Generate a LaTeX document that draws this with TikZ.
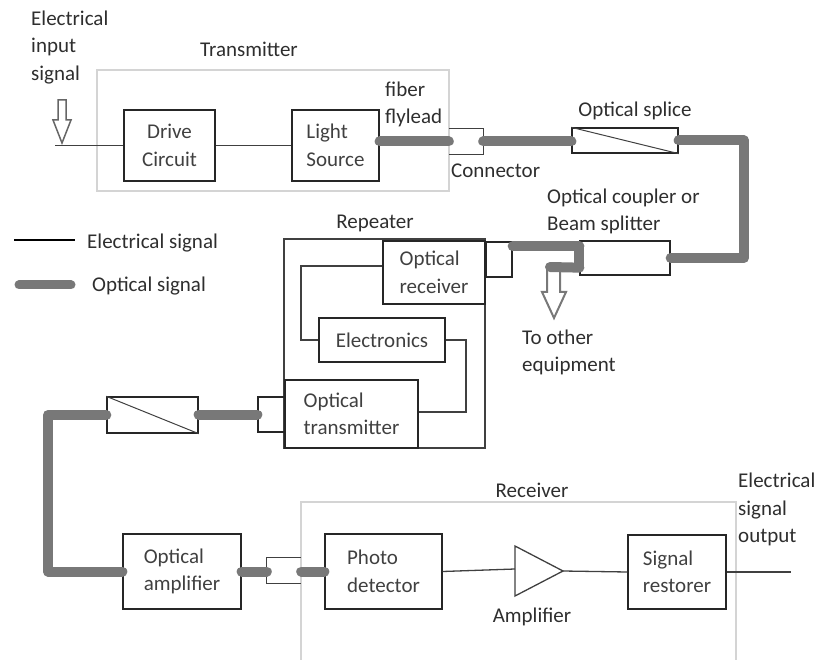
\documentclass[tikz,border=0pt]{standalone}
\usepackage{fontspec}
\setmainfont{Carlito}
\usetikzlibrary{calc}
\definecolor{optgray}{HTML}{787878}
\definecolor{lblcol}{HTML}{2E2E2E}
\definecolor{boxtxt}{HTML}{404040}
\definecolor{framegray}{HTML}{D4D4D4}
\begin{document}
\begin{tikzpicture}[x=1pt,y=-1pt,
  every node/.style={font=\fontsize{21}{27.5}\selectfont},
  blk/.style={draw=black!85, line width=1.3pt, align=left, inner sep=0pt, text=boxtxt},
  ghost/.style={inner sep=0pt},
  lbl/.style={text=lblcol, align=left, inner sep=0pt},
  elec/.style={draw=black!75, line width=1.3pt},
  optic/.style={draw=optgray, line width=10pt, line cap=round, line join=round},
  hollow/.style={draw=optgray, line width=2pt, fill=white, line join=miter},
  frame/.style={draw=framegray, line width=1.5pt}
]
\useasboundingbox (0,0) rectangle (819,660);

% group frames
\draw[frame] (97,70) rectangle (449,191);
\draw[frame] (301,660) -- (301,502) -- (736,502) -- (736,660);
\draw[elec] (284,239) rectangle (485,448);

% blocks
\node[blk, minimum width=91pt, minimum height=71pt, align=center] (drive) at (169.5,145.5) {Drive\\Circuit};
\node[blk, minimum width=87pt, minimum height=71pt] (light) at (335.5,145.5) {Light\\Source};
\node[ghost, minimum width=34pt, minimum height=25pt] (conn1) at (466,141.5) {};
\node[blk, minimum width=106pt, minimum height=25pt] (splice1) at (625,140.5) {};
\node[blk, minimum width=90pt, minimum height=34pt] (coupler) at (625,258) {};
\node[blk, minimum width=26pt, minimum height=35pt] (rconn) at (499,259.5) {};
\node[blk, minimum width=102pt, minimum height=63pt] (orx) at (434,272.5) {Optical\\receiver};
\node[blk, minimum width=126pt, minimum height=44pt] (elecb) at (382,340) {Electronics};
\node[blk, fill=white, minimum width=133pt, minimum height=68pt] (otx) at (351.5,414) {Optical\\transmitter};
\node[blk, minimum width=27pt, minimum height=35pt] (tconn) at (271.5,414.5) {};
\node[blk, minimum width=91pt, minimum height=36pt] (splice2) at (152.5,415) {};
\node[blk, minimum width=118pt, minimum height=75pt] (oamp) at (182,571.5) {Optical\\amplifier};
\node[ghost, minimum width=34pt, minimum height=25pt] (conn3) at (284,570.5) {};
\node[blk, minimum width=117pt, minimum height=75pt] (pd) at (383.5,571.5) {Photo\\detector};
\node[blk, minimum width=98pt, minimum height=74pt] (sr) at (677,572) {Signal\\restorer};

% connectors drawn as open boxes
\draw[elec] (conn1.north west) -- (conn1.north east) -- (conn1.south east) -- (conn1.south west);
\draw[elec] (conn3.north east) -- (conn3.north west) -- (conn3.south west) -- (conn3.south east);
% splice diagonals
\draw[elec, line width=1pt] (splice1.north west) -- (splice1.south east);
\draw[elec, line width=1pt] (splice2.north west) -- (splice2.south east);

% amplifier triangle
\coordinate (ampin) at (515,569);
\coordinate (ampout) at (563,571);
\draw[elec, line join=miter] (515,546) -- (ampout) -- (515,596) -- cycle;

% input hollow arrow
\coordinate (in1) at (55,145.5);
\draw[hollow, draw=black!60, line width=1.5pt] (58,100) -- (66,100) -- (66,120) -- (71,120) -- (62,143) -- (53,120) -- (58,120) -- cycle;

% electrical lines
\draw[elec] (in1) -- (drive.west);
\draw[elec] (drive.east) -- (light.west);
\coordinate (r1) at (301,266);
\draw[elec] ($(orx.west)+(0,-6.5)$) -- (r1) |- (elecb.west);
\coordinate (r2) at (466,340);
\draw[elec] (elecb.east) -- (r2) |- ($(otx.east)+(0,-2)$);
\draw[elec] (pd.east) -- (ampin);
\draw[elec] (ampout) -- (sr.west);
\coordinate (out1) at (791,572);
\draw[elec] (sr.east) -- (out1);

% to other equipment arrow
\draw[hollow] (547,268) -- (547,292) -- (542,292) -- (554,318) -- (566,292) -- (560,292) -- (560,268);

% optical lines
\draw[optic] (light.east |- conn1) -- (conn1.west);
\draw[optic] (conn1.east) -- (conn1.east -| splice1.west);
\coordinate (c2) at (744,258);
\draw[optic] (splice1.east) -| (c2) -- (coupler.east);
\draw[optic] ($(rconn.north east)+(0,5)$) -- ($(coupler.north west)+(0,6)$);
\draw[optic] ($(coupler.south west)+(0,-8)$) -- (550,267);
\draw[optic] (coupler.north west) ++(0,6) -- ++(0,20);
\draw[optic] (tconn.west) -- (tconn.west -| splice2.east);
\coordinate (c3) at (48,571.5);
\draw[optic] (splice2.west) -| (c3) -- (oamp.west);
\draw[optic] (oamp.east) -- (conn3.west |- oamp.east);
\draw[optic] (conn3.east |- pd.west) -- (pd.west);

% legend
\coordinate (lg1) at (14,240);
\coordinate (lg2) at (75,240);
\draw[elec, line width=1.2pt, draw=black] (lg1) -- (lg2);
\coordinate (lg3) at (19,285);
\coordinate (lg4) at (71,285);
\draw[optic, line width=9pt] (lg3) -- (lg4);
\node[lbl, anchor=west] (lgt1) at (87,243) {Electrical signal};
\node[lbl, anchor=west] (lgt2) at (92,286) {Optical signal};

% labels
\node[lbl, anchor=west] (lin) at (31,47.5) {Electrical\\input\\signal};
\node[lbl] (ltx) at (249,49) {Transmitter};
\node[lbl, anchor=west] (lfly) at (385,104.5) {fiber\\flylead};
\node[lbl, anchor=west] (lcon) at (451,171) {Connector};
\node[lbl] (lspl) at (635,111) {Optical splice};
\node[lbl, anchor=west] (lcpl) at (547,211.5) {Optical coupler or\\Beam splitter};
\node[lbl] (lrep) at (375,223) {Repeater};
\node[lbl, anchor=west] (lother) at (522,352.5) {To other\\equipment};
\node[lbl] (lrx) at (532,490) {Receiver};
\node[lbl] (lamp) at (532,617) {Amplifier};
\node[lbl, anchor=west] (lout) at (738,509.5) {Electrical\\signal\\output};
\end{tikzpicture}
\end{document}
